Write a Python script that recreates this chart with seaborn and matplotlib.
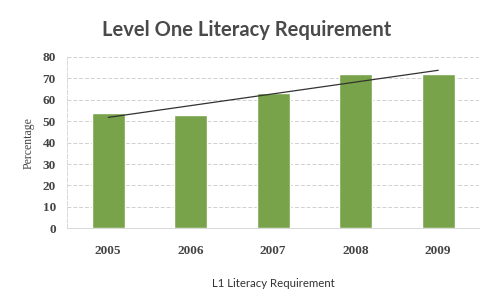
import matplotlib
matplotlib.use("Agg")
import matplotlib.pyplot as plt
import seaborn as sns
import numpy as np
import pandas as pd

years = ["2005", "2006", "2007", "2008", "2009"]
percentages = [54, 53, 63, 72, 72]
y_ticks = [0, 10, 20, 30, 40, 50, 60, 70, 80]

sns.set_theme(style="white")
plt.rcParams['font.family'] = ['Lato', 'DejaVu Sans']

df = pd.DataFrame({"year": years, "pct": percentages})

fig = plt.figure(figsize=(4.94, 3.04), dpi=100)
ax = fig.add_axes([0.1356, 0.249, 0.835, 0.5635])

sns.barplot(data=df, x="year", y="pct", color="#78a34a", width=0.4,
            saturation=1, ax=ax, zorder=3)

# linear trendline
xs = np.arange(len(percentages))
slope, intercept = np.polyfit(xs, percentages, 1)
ax.plot([xs[0], xs[-1]], [intercept, intercept + slope * xs[-1]],
        color="#333333", lw=0.9, zorder=4)

ax.set_ylim(0, 80)
ax.set_xlim(-0.5, 4.5)
ax.set_yticks(y_ticks)
ax.yaxis.grid(True, color="#d0d0d0", linestyle=(0, (4, 2)), lw=0.7, zorder=0)
for s in ["top", "right"]:
    ax.spines[s].set_visible(False)
ax.spines["left"].set_color("#d8d8d8")
ax.spines["left"].set_linestyle((0, (4, 2)))
ax.spines["left"].set_linewidth(0.7)
ax.spines["bottom"].set_color("#d8d8d8")
ax.spines["bottom"].set_linewidth(0.7)

serif = ['Liberation Serif', 'DejaVu Serif']
ax.tick_params(axis='both', length=0, colors="#444444")
ax.tick_params(axis='y', pad=8)
ax.tick_params(axis='x', pad=12)
for lbl in ax.get_yticklabels() + ax.get_xticklabels():
    lbl.set_family(serif)
    lbl.set_fontsize(9.5)
    lbl.set_fontweight('bold')
    lbl.set_color("#444444")

ax.set_ylabel("Percentage", family=serif, fontsize=8.5, color="#444444",
              labelpad=6)
ax.set_xlabel("L1 Literacy Requirement", fontsize=8.2, color="#333333",
              labelpad=15)

fig.text(0.5, 0.902, "Level One Literacy Requirement", ha="center",
         va="center", fontsize=14.5, fontweight="bold", color="#4a4a4a")

fig.savefig("out.png", dpi=100)
